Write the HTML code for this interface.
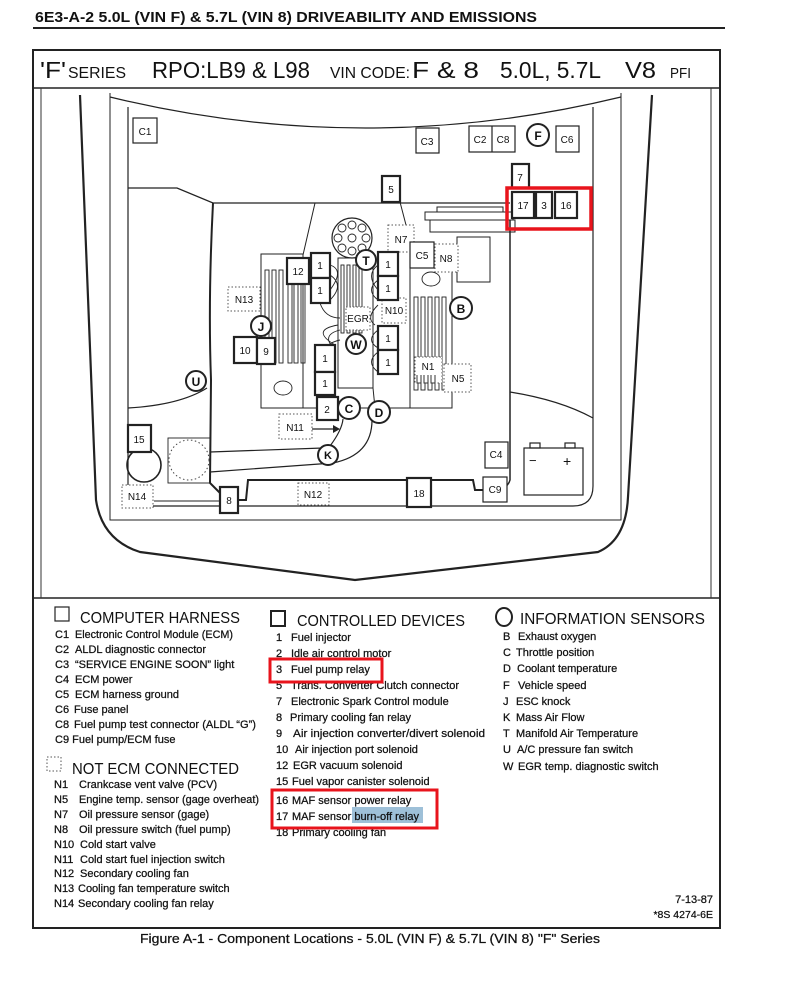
<!DOCTYPE html>
<html><head><meta charset="utf-8"><style>
html,body{margin:0;padding:0;background:#fff;}
svg{display:block;}
text{font-family:"Liberation Sans",sans-serif;fill:#111;}
.lg text{stroke:#111;stroke-width:0.25;}
</style></head><body>
<svg width="796" height="985" viewBox="0 0 796 985" xmlns="http://www.w3.org/2000/svg">
<text x="35" y="22" font-size="14.5" font-weight="bold" textLength="502" lengthAdjust="spacingAndGlyphs">6E3-A-2 5.0L (VIN F) &amp; 5.7L (VIN 8) DRIVEABILITY AND EMISSIONS</text>
<line x1="33" y1="28" x2="725" y2="28" stroke="#222" stroke-width="2"/>

<rect x="33" y="50" width="687" height="878" fill="none" stroke="#222" stroke-width="2"/>
<line x1="33" y1="88" x2="720" y2="88" stroke="#222" stroke-width="1.5"/>
<line x1="33" y1="598" x2="720" y2="598" stroke="#222" stroke-width="1.5"/>
<line x1="41" y1="88" x2="41" y2="598" stroke="#333" stroke-width="1"/>
<line x1="711" y1="88" x2="711" y2="598" stroke="#333" stroke-width="1"/>

<text x="40" y="78" font-size="23" textLength="26" lengthAdjust="spacingAndGlyphs">'F'</text>
<text x="68" y="78" font-size="16" textLength="58" lengthAdjust="spacingAndGlyphs">SERIES</text>
<text x="152" y="78" font-size="23" textLength="158" lengthAdjust="spacingAndGlyphs">RPO:LB9 &amp; L98</text>
<text x="330" y="78" font-size="16" textLength="80" lengthAdjust="spacingAndGlyphs">VIN CODE:</text>
<text x="412" y="78" font-size="23" textLength="67" lengthAdjust="spacingAndGlyphs">F &amp; 8</text>
<text x="500" y="78" font-size="23" textLength="101" lengthAdjust="spacingAndGlyphs">5.0L, 5.7L</text>
<text x="625" y="78" font-size="23" textLength="31" lengthAdjust="spacingAndGlyphs">V8</text>
<text x="670" y="78" font-size="15" textLength="21" lengthAdjust="spacingAndGlyphs">PFI</text>

<g fill="none" stroke="#222">
<path d="M80,95 L96,500 Q102,540 140,552 L355,580 L598,552 Q626,540 628,497 L652,95" stroke-width="2.2"/>
<path d="M110,93 L110,520 L621,520 L621,93" stroke-width="1"/>
<path d="M110,97 Q365,159 621,97" stroke-width="1.2"/>
<path d="M128,107 L128,506 L573,506 Q593,506 593,486 L593,107" stroke-width="1.2"/>
<path d="M128,188 L177,188 L213,203 L510,203" stroke-width="1.3"/>
<path d="M213,203 Q208,300 211,380 L210,483 L220,493" stroke-width="2"/>
<path d="M510,220 L510,480 Q509,484 506,486" stroke-width="1.5"/>
<path d="M238,500 L246,500 L248,480 L407,480 M431,480 L473,480 L475,490 L483,490" stroke-width="2"/>
<path d="M128,408 Q180,405 207,388" stroke-width="1.2"/>
<path d="M510,392 Q560,400 593,418" stroke-width="1.2"/>
<path d="M315,203 L303,255 M400,202 L406,225" stroke-width="1"/>
<path d="M303,254 L261,254 L261,408 L452,408 L452,268" stroke-width="1"/>
<path d="M303,254 L303,408 M410,268 L410,408" stroke-width="1"/>
<rect x="338" y="258" width="35" height="130" stroke-width="1"/>
<path d="M373,388 L375,408" stroke-width="1"/>
<rect x="425" y="212" width="88" height="8" stroke-width="1"/>
<rect x="430" y="220" width="85" height="12" stroke-width="1"/>
<rect x="437" y="207" width="66" height="5" stroke-width="1"/>
<rect x="457" y="237" width="33" height="45" stroke-width="1"/>
<circle cx="352" cy="238" r="20" stroke-width="1.2"/>
</g>
<g fill="none" stroke="#222" stroke-width="0.9">
<circle cx="352" cy="225" r="4"/><circle cx="362" cy="228" r="4"/><circle cx="366" cy="238" r="4"/><circle cx="362" cy="248" r="4"/><circle cx="352" cy="251" r="4"/><circle cx="342" cy="248" r="4"/><circle cx="338" cy="238" r="4"/><circle cx="342" cy="228" r="4"/><circle cx="352" cy="238" r="4"/>
<rect x="265" y="270" width="4" height="93"/><rect x="272" y="270" width="4" height="93"/><rect x="279" y="270" width="4" height="93"/>
<rect x="288" y="283" width="4" height="80"/><rect x="294" y="283" width="4" height="80"/><rect x="301" y="283" width="4" height="80"/>
<rect x="341" y="265" width="3" height="68"/><rect x="347" y="265" width="3" height="68"/><rect x="353" y="265" width="3" height="68"/><rect x="359" y="265" width="3" height="68"/>
<rect x="414" y="297" width="4" height="93"/><rect x="421" y="297" width="4" height="93"/><rect x="428" y="297" width="4" height="93"/><rect x="435" y="297" width="4" height="93"/><rect x="442" y="297" width="4" height="93"/>
<path d="M330,265 Q345,270 330,290 M330,275 Q345,285 330,300 M320,303 Q325,318 340,318 M378,265 Q365,275 378,290 M378,280 Q365,290 378,300 M378,305 Q365,318 375,325 M378,330 Q365,340 378,348 M378,352 Q365,362 378,372 M335,350 Q320,335 340,330 M335,360 Q318,345 340,340 M335,345 Q310,330 338,325"/>
<ellipse cx="283" cy="388" rx="9" ry="7"/>
<ellipse cx="431" cy="279" rx="9" ry="7"/>
<rect x="168" y="438" width="42" height="45"/>
<circle cx="144" cy="465" r="17" stroke-width="1.6"/>
<path d="M210,452 L323,448 M210,472 L333,463 Q372,455 372,420 M330,446 Q342,430 343,419" stroke-width="1.2"/>
<path d="M307,429 L338,429" stroke-width="1.2"/>
<path d="M154,501 L220,501" stroke-width="1"/>
</g>
<circle cx="189" cy="460" r="20" fill="none" stroke="#444" stroke-width="1" stroke-dasharray="1.5,2.5"/>
<path d="M340,429 L333,425 L333,433 Z" fill="#222"/>
<g fill="none" stroke="#222" stroke-width="1.2">
<rect x="524" y="448" width="59" height="47"/>
<rect x="530" y="443" width="10" height="5"/><rect x="565" y="443" width="10" height="5"/>
</g>
<text x="529" y="465" font-size="13">−</text>
<text x="563" y="466" font-size="14">+</text>

<g fill="#fff" stroke="#555" stroke-width="1" stroke-dasharray="1.5,2">
<rect x="228" y="287" width="32" height="24"/>
<rect x="388" y="225" width="26" height="27"/>
<rect x="435" y="244" width="23" height="28"/>
<rect x="382" y="298" width="24" height="25"/>
<rect x="346" y="307" width="24" height="23"/>
<rect x="415" y="357" width="27" height="26"/>
<rect x="444" y="364" width="27" height="28"/>
<rect x="279" y="414" width="33" height="25"/>
<rect x="298" y="483" width="31" height="22"/>
<rect x="122" y="485" width="31" height="23"/>
</g>
<g fill="none" stroke="#333" stroke-width="1">
<path d="M417,375 v8 h4 v-8 M424,375 v8 h4 v-8 M431,375 v8 h4 v-8"/>
</g>

<g fill="#fff" stroke="#222" stroke-width="1.2">
<rect x="133" y="118" width="24" height="25"/>
<rect x="416" y="128" width="23" height="25"/>
<rect x="469" y="126" width="46" height="26"/>
<rect x="556" y="126" width="23" height="26"/>
<rect x="410" y="242" width="24" height="26"/>
<rect x="485" y="442" width="23" height="26"/>
<rect x="483" y="477" width="24" height="25"/>
</g>
<line x1="492" y1="126" x2="492" y2="152" stroke="#222" stroke-width="1.2"/>

<g fill="#fff" stroke="#222" stroke-width="2.2">
<rect x="512" y="164" width="17" height="24"/>
<rect x="512" y="192" width="22" height="26"/>
<rect x="536" y="192" width="16" height="26"/>
<rect x="555" y="192" width="22" height="26"/>
<rect x="382" y="176" width="18" height="26"/>
<rect x="287" y="258" width="22" height="26"/>
<rect x="311" y="253" width="19" height="25"/><rect x="311" y="278" width="19" height="25"/>
<rect x="378" y="252" width="20" height="24"/><rect x="378" y="276" width="20" height="24"/>
<rect x="378" y="326" width="20" height="24"/><rect x="378" y="350" width="20" height="24"/>
<rect x="315" y="345" width="20" height="27"/><rect x="315" y="372" width="20" height="23"/>
<rect x="317" y="397" width="21" height="23"/>
<rect x="234" y="337" width="23" height="26"/>
<rect x="257" y="338" width="18" height="26"/>
<rect x="128" y="425" width="23" height="27"/>
<rect x="220" y="487" width="18" height="26"/>
<rect x="407" y="478" width="24" height="29"/>
</g>

<g fill="#fff" stroke="#222" stroke-width="2">
<circle cx="538" cy="135" r="11"/>
<circle cx="366" cy="260" r="10"/>
<circle cx="356" cy="344" r="10"/>
<circle cx="261" cy="326" r="10"/>
<circle cx="461" cy="308" r="11"/>
<circle cx="196" cy="381" r="10"/>
<circle cx="349" cy="408" r="11"/>
<circle cx="379" cy="412" r="11"/>
<circle cx="328" cy="455" r="10"/>
</g>

<rect x="507" y="188" width="84" height="41" fill="none" stroke="#e8141c" stroke-width="3.5"/>

<g font-size="10" text-anchor="middle">
<text x="145" y="135">C1</text><text x="427" y="145">C3</text><text x="480" y="143">C2</text><text x="503" y="143">C8</text><text x="567" y="143">C6</text>
<text x="520" y="181">7</text><text x="523" y="209">17</text><text x="544" y="209">3</text><text x="566" y="209">16</text>
<text x="391" y="193">5</text><text x="401" y="243">N7</text><text x="422" y="259">C5</text><text x="446" y="262">N8</text>
<text x="298" y="275">12</text><text x="320" y="269">1</text><text x="320" y="294">1</text>
<text x="388" y="268">1</text><text x="388" y="292">1</text><text x="388" y="342">1</text><text x="388" y="366">1</text>
<text x="325" y="362">1</text><text x="325" y="387">1</text><text x="327" y="413">2</text>
<text x="244" y="303">N13</text><text x="394" y="314">N10</text><text x="358" y="322">EGR</text>
<text x="245" y="354">10</text><text x="266" y="355">9</text>
<text x="428" y="370">N1</text><text x="458" y="382">N5</text>
<text x="295" y="431">N11</text><text x="139" y="443">15</text>
<text x="137" y="500">N14</text><text x="229" y="504">8</text><text x="313" y="498">N12</text>
<text x="419" y="497">18</text><text x="496" y="458">C4</text><text x="495" y="493">C9</text>
</g>
<g font-size="12" font-weight="bold" text-anchor="middle">
<text x="538" y="140">F</text><text x="366" y="265">T</text><text x="356" y="349">W</text><text x="261" y="331">J</text>
<text x="461" y="313">B</text><text x="196" y="386">U</text><text x="349" y="413">C</text><text x="379" y="417">D</text><text x="328" y="459" font-size="11">K</text>
</g>

<rect x="55" y="607" width="14" height="14" fill="none" stroke="#222" stroke-width="1.2"/>
<text x="80" y="623" font-size="16" textLength="160" lengthAdjust="spacingAndGlyphs">COMPUTER HARNESS</text>
<rect x="271" y="611" width="14" height="15" fill="none" stroke="#222" stroke-width="2"/>
<text x="297" y="626" font-size="16" textLength="168" lengthAdjust="spacingAndGlyphs">CONTROLLED DEVICES</text>
<ellipse cx="504" cy="617" rx="8" ry="9" fill="none" stroke="#222" stroke-width="2"/>
<text x="520" y="624" font-size="16" textLength="185" lengthAdjust="spacingAndGlyphs">INFORMATION SENSORS</text>
<rect x="47" y="757" width="14" height="14" fill="none" stroke="#555" stroke-width="1" stroke-dasharray="1.5,2"/>
<text x="72" y="774" font-size="16" textLength="167" lengthAdjust="spacingAndGlyphs">NOT ECM CONNECTED</text>

<rect x="352" y="807" width="71" height="16" fill="#9ec0d8"/>
<g font-size="11" class="lg">
<text x="55" y="638">C1</text><text x="75" y="638" textLength="158" lengthAdjust="spacingAndGlyphs">Electronic Control Module (ECM)</text>
<text x="55" y="653">C2</text><text x="75" y="653">ALDL diagnostic connector</text>
<text x="55" y="668">C3</text><text x="75" y="668">“SERVICE ENGINE SOON” light</text>
<text x="55" y="683">C4</text><text x="75" y="683">ECM power</text>
<text x="55" y="698">C5</text><text x="75" y="698">ECM harness ground</text>
<text x="55" y="713">C6</text><text x="74" y="713">Fuse panel</text>
<text x="55" y="728">C8</text><text x="74" y="728" textLength="182" lengthAdjust="spacingAndGlyphs">Fuel pump test connector (ALDL “G”)</text>
<text x="55" y="743">C9 Fuel pump/ECM fuse</text>

<text x="54" y="788">N1</text><text x="79" y="788">Crankcase vent valve (PCV)</text>
<text x="54" y="803">N5</text><text x="79" y="803" textLength="180" lengthAdjust="spacingAndGlyphs">Engine temp. sensor (gage overheat)</text>
<text x="54" y="818">N7</text><text x="79" y="818">Oil pressure sensor (gage)</text>
<text x="54" y="833">N8</text><text x="79" y="833">Oil pressure switch (fuel pump)</text>
<text x="54" y="848">N10</text><text x="80" y="848">Cold start  valve</text>
<text x="54" y="863">N11</text><text x="80" y="863">Cold start fuel injection switch</text>
<text x="54" y="877">N12</text><text x="80" y="877">Secondary cooling fan</text>
<text x="54" y="892">N13</text><text x="78" y="892">Cooling fan temperature switch</text>
<text x="54" y="907">N14</text><text x="78" y="907">Secondary cooling fan relay</text>

<text x="276" y="641">1</text><text x="291" y="641">Fuel injector</text>
<text x="276" y="657">2</text><text x="291" y="657">Idle air control motor</text>
<text x="276" y="673">3</text><text x="291" y="673">Fuel pump relay</text>
<text x="276" y="689">5</text><text x="291" y="689" textLength="168" lengthAdjust="spacingAndGlyphs">Trans. Converter Clutch connector</text>
<text x="276" y="705">7</text><text x="291" y="705">Electronic Spark Control module</text>
<text x="276" y="721">8</text><text x="290" y="721">Primary cooling fan relay</text>
<text x="276" y="737">9</text><text x="293" y="737" textLength="192" lengthAdjust="spacingAndGlyphs">Air injection  converter/divert  solenoid</text>
<text x="276" y="753">10</text><text x="295" y="753">Air injection port solenoid</text>
<text x="276" y="769">12</text><text x="293" y="769">EGR vacuum solenoid</text>
<text x="276" y="785">15</text><text x="292" y="785">Fuel vapor canister solenoid</text>
<text x="276" y="804">16</text><text x="292" y="804">MAF sensor power relay</text>
<text x="276" y="820">17</text><text x="292" y="820">MAF sensor burn-off relay</text>
<text x="276" y="836">18</text><text x="292" y="836">Primary cooling fan</text>

<text x="503" y="640">B</text><text x="518" y="640">Exhaust oxygen</text>
<text x="503" y="656">C</text><text x="516" y="656">Throttle position</text>
<text x="503" y="672">D</text><text x="517" y="672">Coolant temperature</text>
<text x="503" y="689">F</text><text x="518" y="689">Vehicle speed</text>
<text x="503" y="705">J</text><text x="516" y="705">ESC knock</text>
<text x="503" y="721">K</text><text x="516" y="721">Mass Air Flow</text>
<text x="503" y="737">T</text><text x="516" y="737">Manifold Air Temperature</text>
<text x="503" y="753">U</text><text x="517" y="753">A/C pressure fan switch</text>
<text x="503" y="770">W</text><text x="518" y="770">EGR temp. diagnostic switch</text>

<text x="713" y="903" text-anchor="end">7-13-87</text>
<text x="713" y="918" text-anchor="end" font-size="10.5">*8S 4274-6E</text>
</g>

<rect x="270" y="659" width="112" height="23" fill="none" stroke="#e8141c" stroke-width="3"/>
<rect x="272" y="790" width="165" height="38" fill="none" stroke="#e8141c" stroke-width="3"/>

<text x="140" y="943" font-size="13" textLength="460" lengthAdjust="spacingAndGlyphs" stroke="#111" stroke-width="0.25">Figure A-1 -  Component Locations - 5.0L  (VIN F)  &amp; 5.7L (VIN 8)  "F" Series</text>
</svg>
</body></html>
